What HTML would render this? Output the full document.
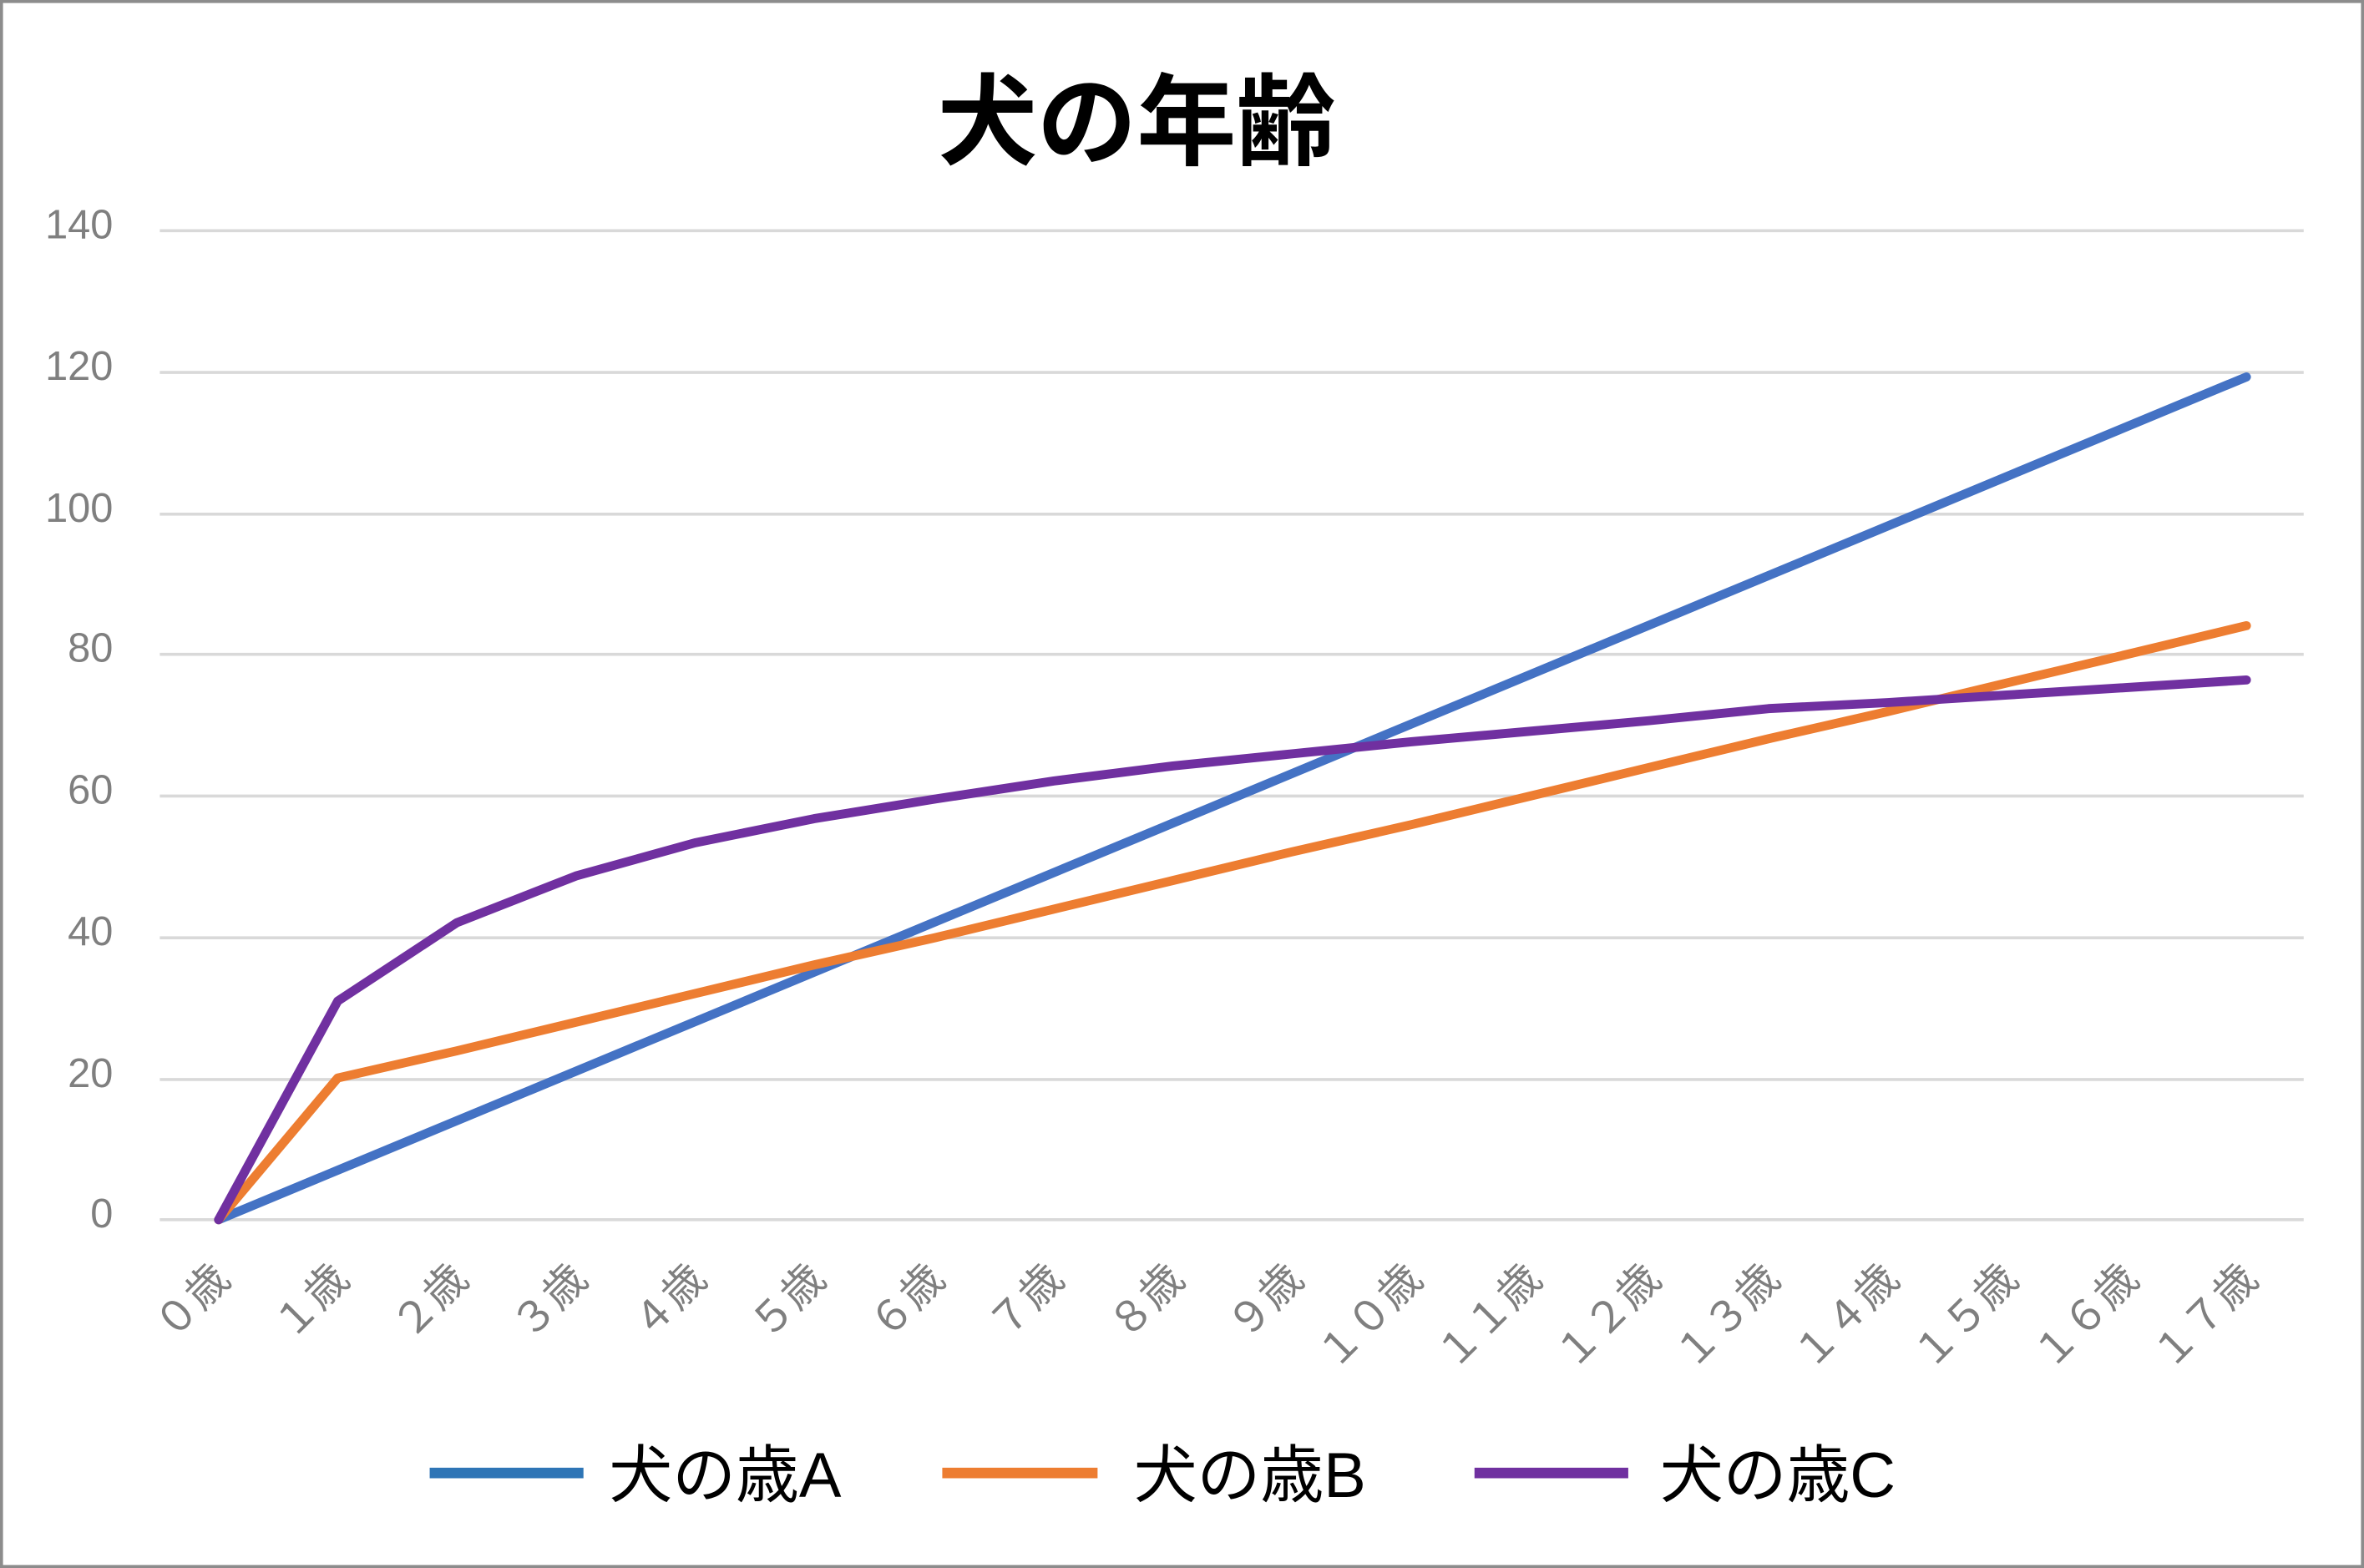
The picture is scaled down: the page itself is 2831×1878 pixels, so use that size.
<!DOCTYPE html>
<html><head><meta charset="utf-8"><style>
html,body{margin:0;padding:0;background:#fff;}
svg{display:block;}
text{font-family:"Liberation Sans","Noto Sans CJK JP",sans-serif;}
</style></head><body>
<svg width="2831" height="1878" viewBox="0 0 1568 1040" preserveAspectRatio="none" xmlns="http://www.w3.org/2000/svg">
<rect x="1" y="1" width="1566" height="1038" fill="#fff" stroke="#8c8c8c" stroke-width="2"/>
<text x="754" y="104" font-size="66" font-weight="bold" text-anchor="middle" fill="#000">犬の年齢</text>
<g stroke="#d9d9d9" stroke-width="2">
<line x1="106" y1="153" x2="1528" y2="153"/>
<line x1="106" y1="247" x2="1528" y2="247"/>
<line x1="106" y1="341" x2="1528" y2="341"/>
<line x1="106" y1="434" x2="1528" y2="434"/>
<line x1="106" y1="528" x2="1528" y2="528"/>
<line x1="106" y1="622" x2="1528" y2="622"/>
<line x1="106" y1="716" x2="1528" y2="716"/>
<line x1="106" y1="809" x2="1528" y2="809"/>
</g>
<g font-size="27" fill="#7f7f7f" text-anchor="end">
<text x="75" y="158">140</text>
<text x="75" y="252">120</text>
<text x="75" y="346">100</text>
<text x="75" y="439">80</text>
<text x="75" y="533">60</text>
<text x="75" y="627">40</text>
<text x="75" y="721">20</text>
<text x="75" y="814">0</text>
</g>
<g font-size="28" fill="#7f7f7f" text-anchor="end">
<text transform="translate(154,850) rotate(-45)">０歳</text>
<text transform="translate(233,850) rotate(-45)">１歳</text>
<text transform="translate(312,850) rotate(-45)">２歳</text>
<text transform="translate(391,850) rotate(-45)">３歳</text>
<text transform="translate(470,850) rotate(-45)">４歳</text>
<text transform="translate(549,850) rotate(-45)">５歳</text>
<text transform="translate(628,850) rotate(-45)">６歳</text>
<text transform="translate(707,850) rotate(-45)">７歳</text>
<text transform="translate(787,850) rotate(-45)">８歳</text>
<text transform="translate(866,850) rotate(-45)">９歳</text>
<text transform="translate(945,850) rotate(-45)">１０歳</text>
<text transform="translate(1024,850) rotate(-45)">１１歳</text>
<text transform="translate(1103,850) rotate(-45)">１２歳</text>
<text transform="translate(1182,850) rotate(-45)">１３歳</text>
<text transform="translate(1261,850) rotate(-45)">１４歳</text>
<text transform="translate(1340,850) rotate(-45)">１５歳</text>
<text transform="translate(1420,850) rotate(-45)">１６歳</text>
<text transform="translate(1499,850) rotate(-45)">１７歳</text>
</g>
<g fill="none" stroke-width="6" stroke-linejoin="round" stroke-linecap="round">
<polyline stroke="#4472c4" points="145,809 1490,250"/>
<polyline stroke="#ed7d31" points="145,809 224,715 303,697 382,678 461,659 540,640 620,622 699,603 778,584 857,565 936,547 1015,528 1094,509 1173,490 1252,472 1331,453 1411,434 1490,415"/>
<polyline stroke="#7030a0" points="145,809 224,664 303,612 382,581 461,559 540,543 620,530 699,518 778,508 857,500 936,492 1015,485 1094,478 1173,470 1252,466 1331,461 1411,456 1490,451"/>
</g>
<g stroke-width="7">
<line x1="285" y1="977" x2="387" y2="977" stroke="#2e75b6"/>
<line x1="625" y1="977" x2="728" y2="977" stroke="#ed7d31"/>
<line x1="978" y1="977" x2="1080" y2="977" stroke="#7030a0"/>
</g>
<g font-size="42" fill="#000">
<text x="404" y="993">犬の歳A</text>
<text x="752" y="993">犬の歳B</text>
<text x="1101" y="993">犬の歳C</text>
</g>
</svg>
</body></html>
